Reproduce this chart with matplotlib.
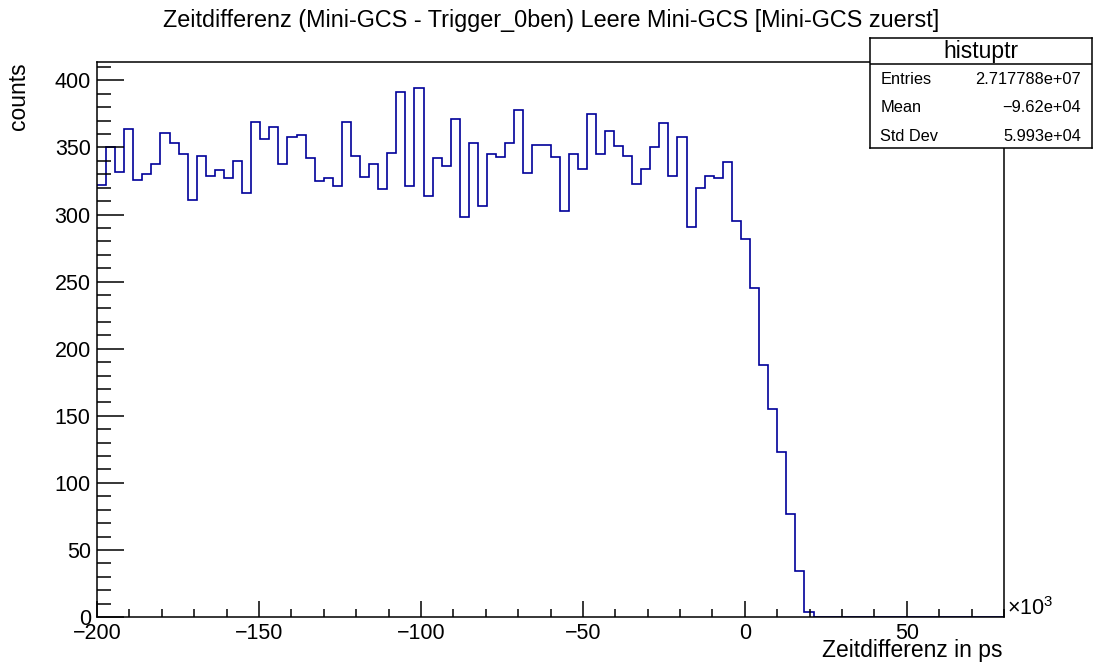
import numpy as np
import matplotlib
matplotlib.use('Agg')
import matplotlib.pyplot as plt
from matplotlib.ticker import MultipleLocator

plt.rcParams['font.family'] = ['Liberation Sans', 'DejaVu Sans']
plt.rcParams['mathtext.fontset'] = 'custom'
plt.rcParams['mathtext.rm'] = 'Liberation Sans'

# histogram: 100 bins from -200 to 80 (x10^3 ps)
x_min, x_max, n_bins = -200, 80, 100
counts = [322, 350, 332, 364, 326, 330, 338, 361, 353, 345,
          311, 344, 329, 333, 327, 340, 316, 369, 356, 365,
          338, 358, 359, 342, 325, 327, 321, 369, 344, 328,
          338, 319, 346, 391, 321, 394, 314, 342, 336, 371,
          298, 353, 306, 345, 343, 353, 378, 331, 352, 352,
          343, 303, 345, 334, 375, 345, 362, 351, 344, 323,
          334, 350, 368, 329, 358, 291, 320, 329, 327, 339,
          295, 282, 245, 188, 155, 123, 77, 34, 4, 0] + [0] * 20

title = 'Zeitdifferenz (Mini-GCS - Trigger_0ben) Leere Mini-GCS [Mini-GCS zuerst]'
stats_name = 'histuptr'
stats_labels = ['Entries', 'Mean', 'Std Dev']
stats_values = ['2.717788e+07', '\u22129.62e+04', '5.993e+04']

W, H = 1096, 671
edges = np.linspace(x_min, x_max, n_bins + 1)

fig = plt.figure(figsize=(W / 100, H / 100), dpi=100)
ax = fig.add_axes([97 / W, 1 - 617 / H, (1004 - 97) / W, (617 - 62) / H])
ax.stairs(counts, edges, color='#000099', linewidth=1.2, baseline=None)

ax.set_xlim(x_min, x_max)
ax.set_ylim(0, 1.05 * max(counts))
ax.xaxis.set_major_locator(MultipleLocator(50))
ax.xaxis.set_minor_locator(MultipleLocator(10))
ax.yaxis.set_major_locator(MultipleLocator(50))
ax.yaxis.set_minor_locator(MultipleLocator(10))
ax.tick_params(which='both', direction='in', width=1.1, labelsize=15.5, pad=4.5,
               top=False, right=False)
ax.tick_params(axis='x', which='major', length=11.5)
ax.tick_params(axis='x', which='minor', length=5.8)
ax.tick_params(axis='y', which='major', length=19.4)
ax.tick_params(axis='y', which='minor', length=9.9)
for sp in ax.spines.values():
    sp.set_linewidth(1.1)

fig.text(551 / W, 1 - 27 / H, title, ha='center', va='baseline', fontsize=16.8)
fig.text(1002 / W, 1 - 657 / H, 'Zeitdifferenz in ps', ha='right', va='baseline',
         fontsize=16.5)
fig.text(18 / W, 1 - 62.5 / H, 'counts', rotation=90, ha='center', va='top',
         fontsize=16.5)
fig.text(1007 / W, 1 - 615 / H, r'$\times10^{3}$', ha='left', va='baseline',
         fontsize=15.5)

# stats box
sb = fig.add_axes([870 / W, 1 - 148 / H, (1092 - 870) / W, (148 - 38) / H])
sb.set_xlim(0, 1)
sb.set_ylim(0, 1)
sb.set_xticks([])
sb.set_yticks([])
for sp in sb.spines.values():
    sp.set_linewidth(1.1)
sb.axhline((148 - 63.7) / 110, color='black', linewidth=1.1)
fig.text(981 / W, 1 - 51.5 / H, stats_name, ha='center', va='center', fontsize=16.5)
for i, (lab, val) in enumerate(zip(stats_labels, stats_values)):
    yy = 1 - (79.3 + 28.4 * i) / H
    fig.text(880.5 / W, yy, lab, ha='left', va='center', fontsize=11.8)
    fig.text(1081 / W, yy, val, ha='right', va='center', fontsize=11.8)

fig.savefig('out.png', dpi=100)
